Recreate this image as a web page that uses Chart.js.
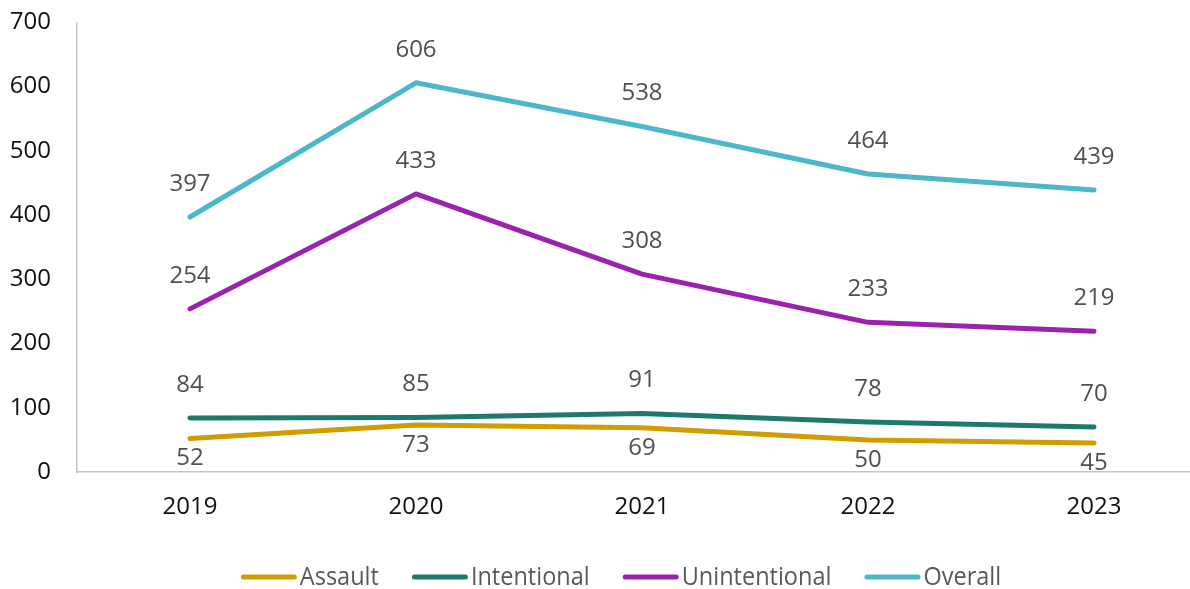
<!DOCTYPE html>
<html>
<head>
<meta charset="utf-8">
<script src="https://cdn.jsdelivr.net/npm/chart.js@4.4.1/dist/chart.umd.min.js"></script>
<style>
  html, body { margin: 0; padding: 0; background: #fff; overflow: hidden; }
  #wrap { width: 1242px; height: 607px; margin-top: -18px; position: relative; }
</style>
</head>
<body>
<div id="wrap"><canvas id="chart"></canvas></div>
<script>
const years = ['2019', '2020', '2021', '2022', '2023'];
const assault = [52, 73, 69, 50, 45];
const intentional = [84, 85, 91, 78, 70];
const unintentional = [254, 433, 308, 233, 219];
const overall = [397, 606, 538, 464, 439];
const yTicks = [0, 100, 200, 300, 400, 500, 600, 700];

const FONT = "'Open Sans', 'Noto Sans', sans-serif";

// value labels: above the point, except Assault which sits below
const valueLabels = {
  id: 'valueLabels',
  afterDatasetsDraw(chart) {
    const ctx = chart.ctx;
    ctx.save();
    ctx.font = '24px ' + FONT;
    ctx.fillStyle = '#505050';
    ctx.textAlign = 'center';
    ctx.textBaseline = 'middle';
    chart.data.datasets.forEach((ds, i) => {
      const meta = chart.getDatasetMeta(i);
      meta.data.forEach((pt, j) => {
        const dy = ds.labelBelow ? 20 : -33;
        ctx.fillText(String(ds.data[j]), pt.x, pt.y + dy);
      });
    });
    ctx.restore();
  }
};

// legend row along the bottom: short line swatch, then slightly narrowed text
const lineLegend = {
  id: 'lineLegend',
  afterDraw(chart) {
    const ctx = chart.ctx;
    const sw = 56, gapText = 3, gapItem = 33, squeeze = 0.94;
    const y = chart.chartArea.bottom + 105;
    ctx.save();
    ctx.font = '25px ' + FONT;
    const items = chart.data.datasets.map(ds => ({
      ds, w: ctx.measureText(ds.label).width * squeeze
    }));
    const total = items.reduce((s, it) => s + sw + gapText + it.w, 0) + gapItem * (items.length - 1);
    let x = chart.width / 2 - total / 2;
    items.forEach(it => {
      ctx.strokeStyle = it.ds.borderColor;
      ctx.lineWidth = 5;
      ctx.lineCap = 'round';
      ctx.beginPath();
      ctx.moveTo(x + 2.5, y);
      ctx.lineTo(x + sw - 2.5, y);
      ctx.stroke();
      x += sw + gapText;
      ctx.save();
      ctx.translate(x, y);
      ctx.scale(squeeze, 1);
      ctx.fillStyle = '#595959';
      ctx.textAlign = 'left';
      ctx.textBaseline = 'middle';
      ctx.fillText(it.ds.label, 0, 1);
      ctx.restore();
      x += it.w + gapItem;
    });
    ctx.restore();
  }
};

const mk = (label, data, color, below) => ({
  label, data,
  borderColor: color,
  backgroundColor: color,
  borderWidth: 5,
  borderCapStyle: 'round',
  borderJoinStyle: 'round',
  pointRadius: 0,
  pointHoverRadius: 0,
  tension: 0,
  labelBelow: below
});

new Chart(document.getElementById('chart'), {
  type: 'line',
  data: {
    labels: years,
    datasets: [
      mk('Assault', assault, '#D09C00', true),
      mk('Intentional', intentional, '#1C7A6C', false),
      mk('Unintentional', unintentional, '#9A22AE', false),
      mk('Overall', overall, '#4BB7C8', false)
    ]
  },
  options: {
    responsive: true,
    maintainAspectRatio: false,
    animation: false,
    layout: { padding: { top: 7, right: 0, bottom: 0, left: 0 } },
    scales: {
      x: {
        offset: true,
        grid: { display: false, drawTicks: false },
        border: { display: true, color: '#c4c4c4', width: 1.5 },
        ticks: { color: '#111', font: { family: FONT, size: 24 }, padding: 21 },
        afterFit(scale) { scale.height = 117; }
      },
      y: {
        min: 0,
        max: 700,
        afterBuildTicks(scale) { scale.ticks = yTicks.map(v => ({ value: v })); },
        afterFit(scale) { scale.width = 77; },
        grid: { display: false, drawTicks: false },
        border: { display: true, color: '#c4c4c4', width: 1.5 },
        ticks: { color: '#111', font: { family: FONT, size: 24 }, padding: 26 }
      },
      // empty right-hand axis that only reserves margin
      yRight: {
        position: 'right',
        display: true,
        grid: { display: false, drawTicks: false },
        border: { display: false },
        ticks: { display: false },
        afterFit(scale) { scale.width = 35; }
      }
    },
    plugins: {
      tooltip: { enabled: false },
      legend: { display: false }
    }
  },
  plugins: [valueLabels, lineLegend]
});
</script>
</body>
</html>
